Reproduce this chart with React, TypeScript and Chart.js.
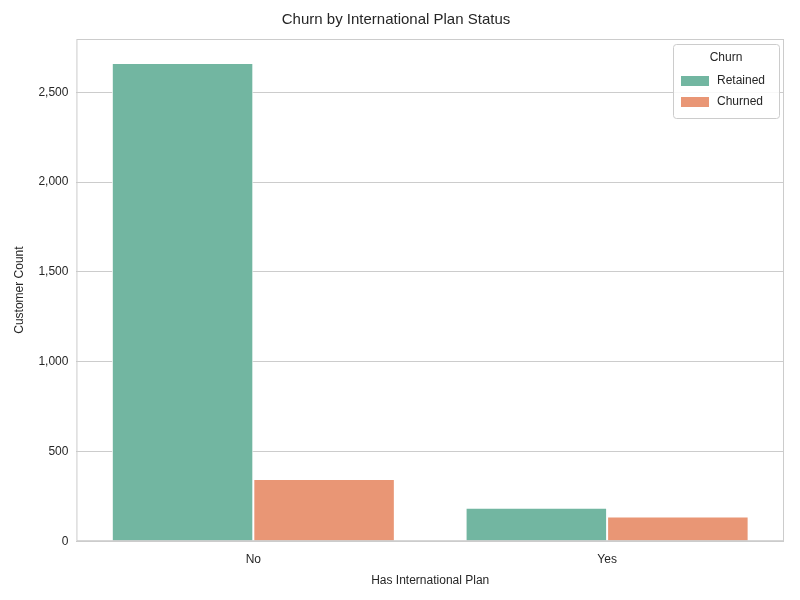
import React, { useEffect, useRef } from "react";
import { Chart, registerables } from "chart.js";
Chart.register(...registerables);

const categories = ["No", "Yes"];
const retained = [2664, 186];
const churned = [346, 137];
const seriesNames = ["Retained", "Churned"];
const colors = ["#72b6a1", "#e99675"];
const yTicks = [0, 500, 1000, 1500, 2000, 2500];

const FONT = "'Liberation Sans', Arial, sans-serif";

const boxPlugin = {
  id: "box",
  afterDraw(chart: any) {
    const { ctx, chartArea: a } = chart;
    ctx.save();
    ctx.strokeStyle = "#cccccc";
    ctx.lineWidth = 1;
    ctx.strokeRect(a.left + 0.5, a.top + 0.5, a.right - a.left - 1, a.bottom - a.top - 1);
    // legend
    const w = 106, h = 74;
    const x = a.right - w - 5, y = a.top + 5;
    ctx.fillStyle = "rgba(255,255,255,0.85)";
    ctx.strokeStyle = "#cccccc";
    ctx.beginPath();
    (ctx as any).roundRect(x + 0.5, y + 0.5, w, h, 3);
    ctx.fill();
    ctx.stroke();
    ctx.fillStyle = "#262626";
    ctx.font = `12px ${FONT}`;
    ctx.textAlign = "center";
    ctx.textBaseline = "middle";
    ctx.fillText("Churn", x + w / 2, y + 14);
    ctx.textAlign = "left";
    seriesNames.forEach((n, i) => {
      const yy = y + 36 + i * 21;
      ctx.fillStyle = colors[i];
      ctx.fillRect(x + 8, yy - 4, 28, 10);
      ctx.fillStyle = "#262626";
      ctx.fillText(n, x + 44, yy + 1);
    });
    ctx.restore();
  },
};

export default function App() {
  const ref = useRef<HTMLCanvasElement>(null);
  useEffect(() => {
    document.body.style.margin = "0";
    const chart = new Chart(ref.current!, {
      type: "bar",
      data: {
        labels: categories,
        datasets: [
          { label: seriesNames[0], data: retained, backgroundColor: colors[0], borderColor: "#ffffff", borderWidth: 1 },
          { label: seriesNames[1], data: churned, backgroundColor: colors[1], borderColor: "#ffffff", borderWidth: 1 },
        ],
      },
      options: {
        animation: false,
        responsive: false,
        layout: { padding: { left: 8, right: 16, top: 0, bottom: 8 } },
        plugins: {
          legend: { display: false },
          tooltip: { enabled: false },
          title: {
            display: true,
            text: "Churn by International Plan Status",
            color: "#262626",
            font: { family: FONT, size: 15, weight: "normal" },
            padding: { top: 11, bottom: 10 },
          },
        },
        datasets: { bar: { categoryPercentage: 0.8, barPercentage: 1 } },
        scales: {
          x: {
            grid: { display: false },
            border: { display: false },
            ticks: { color: "#262626", font: { family: FONT, size: 12 } },
            title: { display: true, text: "Has International Plan", color: "#262626", font: { family: FONT, size: 12 } },
          },
          y: {
            min: 0,
            max: 2797,
            afterBuildTicks: (s: any) => { s.ticks = yTicks.map((v) => ({ value: v })); },
            grid: { color: "#cccccc", drawTicks: false },
            border: { display: false },
            ticks: { color: "#262626", padding: 8, font: { family: FONT, size: 12 } },
            title: { display: true, text: "Customer Count", color: "#262626", font: { family: FONT, size: 12 } },
          },
        },
      },
      plugins: [boxPlugin],
    });
    return () => chart.destroy();
  }, []);
  return <canvas ref={ref} width={800} height={600} />;
}
